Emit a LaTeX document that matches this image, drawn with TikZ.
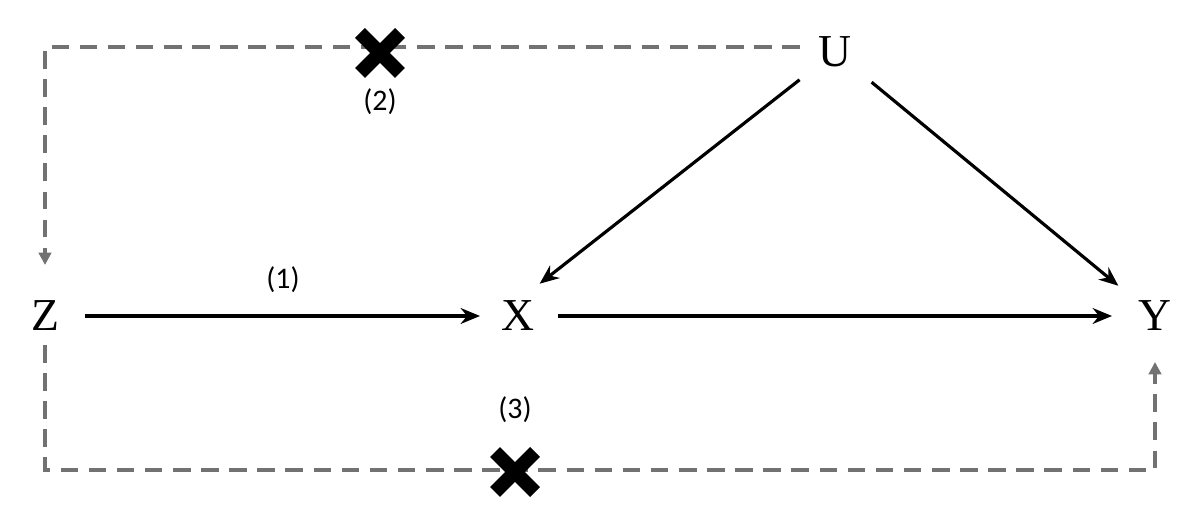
\documentclass[tikz,border=0pt]{standalone}
\usepackage{fontspec}
\setmainfont{Liberation Serif}
\newfontfamily\lblfont{Carlito}
\usetikzlibrary{arrows.meta}
\tikzset{
  var/.style={font=\fontsize{26}{30}\selectfont,inner sep=0pt},
  lbl/.style={font=\lblfont\fontsize{17}{20}\selectfont},
  edge/.style={line width=1.8pt,-{Stealth[length=11pt,width=9pt]}},
  blocked/.style={line width=1.8pt,gray!70!black!85,dash pattern=on 10pt off 6pt},
  crossmark/.style={line width=8pt,line cap=butt}
}
\begin{document}
\begin{tikzpicture}[x=0.02cm,y=-0.02cm]
\useasboundingbox (0,0) rectangle (1200,519);
\node[var](U)at(835,52){U};
\node[var](Z)at(45,316){Z};
\node[var](X)at(518,316){X};
\node[var](Y)at(1155,316){Y};
\coordinate(ul)at(800,47);
\coordinate(tl)at(45,47);
\coordinate(zt)at(45,265);
\coordinate(zb)at(45,345);
\coordinate(bl)at(45,470);
\coordinate(br)at(1155,470);
\coordinate(yb)at(1155,362);
% causal paths
\draw[edge,shorten <=0.8cm,shorten >=0.76cm](Z.center)--(X.center);
\draw[edge,shorten <=0.8cm,shorten >=0.86cm](X.center)--(Y.center);
\draw[edge,shorten <=0.9cm,shorten >=0.55cm](U.center)--(X.north);
\draw[edge,shorten <=0.95cm,shorten >=0.95cm](U.center)--(Y.center);
% blocked paths
\draw[blocked,-{Triangle[length=7pt,width=7pt]}](ul)--(tl)--(zt);
\draw[blocked,-{Triangle[length=7pt,width=7pt]}](zb)--(bl)--(br)--(yb);
\foreach \cx/\cy in {380/53,515/472}
{\draw[crossmark](\cx-20,\cy-20)--(\cx+20,\cy+20)(\cx-20,\cy+20)--(\cx+20,\cy-20);}
\node[lbl](l1)at(283,280){(1)};
\node[lbl](l2)at(380,102){(2)};
\node[lbl](l3)at(515,410){(3)};
\end{tikzpicture}
\end{document}
